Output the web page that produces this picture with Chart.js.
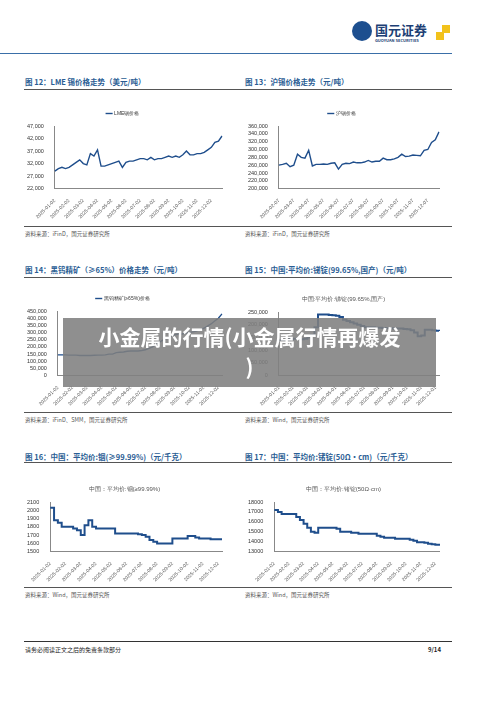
<!DOCTYPE html>
<html><head><meta charset="utf-8">
<script src="https://cdn.jsdelivr.net/npm/chart.js@4"></script>
<style>
body{margin:0;width:500px;height:706px;background:#fff;position:relative;font-family:"Noto Sans CJK SC","Noto Sans",sans-serif;overflow:hidden}
.abs{position:absolute}
.t{font-size:7.5px;font-weight:bold;color:#2a5d94;white-space:nowrap}
.src{font-size:5.5px;color:#555;white-space:nowrap}
.rule{height:1px;background:#555}
.c{position:absolute}
</style></head><body>
<div class="abs" style="left:352px;top:21px;width:20px;height:20px;border-radius:50%;background:#1d4f8f"></div>
<div class="abs" style="left:375px;top:20px;font-size:13px;font-weight:bold;color:#1d3f75">国元证券</div>
<div class="abs" style="left:375px;top:37px;font-size:4px;font-weight:bold;color:#1d3f75">GUOYUAN SECURITIES</div>
<div class="abs" style="left:442px;top:25px;width:8px;height:8px;background:#f2c21b"></div>
<div class="abs" style="left:436px;top:32px;width:8px;height:8px;background:#f2c21b"></div>
<div class="abs rule" style="left:0;top:53px;width:452px;background:#3a6fa8"></div>

<div class="abs t" style="left:25px;top:76px">图 12：LME 锡价格走势（美元/吨）</div>
<div class="abs t" style="left:245px;top:76px">图 13：沪锡价格走势（元/吨）</div>
<div class="abs rule" style="left:24px;top:89px;width:428px"></div>
<div class="c" style="left:24px;top:101px;width:204px;height:120px"><canvas id="c1"></canvas></div>
<div class="c" style="left:245px;top:101px;width:200px;height:120px"><canvas id="c2"></canvas></div>
<div class="abs rule" style="left:24px;top:226px;width:428px"></div>
<div class="abs src" style="left:25px;top:230px">资料来源：iFinD，国元证券研究所</div>
<div class="abs src" style="left:245px;top:230px">资料来源：iFinD，国元证券研究所</div>

<div class="abs t" style="left:25px;top:264px">图 14：黑钨精矿（≥65%）价格走势（元/吨）</div>
<div class="abs t" style="left:245px;top:264px">图 15：中国:平均价:锑锭(99.65%,国产)（元/吨）</div>
<div class="abs rule" style="left:24px;top:277px;width:428px"></div>
<div class="c" style="left:24px;top:286px;width:204px;height:122px"><canvas id="c3"></canvas></div>
<div class="c" style="left:245px;top:286px;width:200px;height:122px"><canvas id="c4"></canvas></div>
<div class="abs rule" style="left:24px;top:412px;width:428px"></div>
<div class="abs src" style="left:25px;top:416px">资料来源：iFinD、SMM，国元证券研究所</div>
<div class="abs src" style="left:245px;top:416px">资料来源：Wind，国元证券研究所</div>

<div class="abs t" style="left:25px;top:451px">图 16：中国：平均价:铟(≥99.99%)（元/千克）</div>
<div class="abs t" style="left:245px;top:451px">图 17：中国：平均价:锗锭(50Ω·cm)（元/千克）</div>
<div class="abs rule" style="left:24px;top:462px;width:428px"></div>
<div class="c" style="left:24px;top:476px;width:204px;height:108px"><canvas id="c5"></canvas></div>
<div class="c" style="left:245px;top:476px;width:200px;height:108px"><canvas id="c6"></canvas></div>
<div class="abs rule" style="left:24px;top:587px;width:428px"></div>
<div class="abs src" style="left:25px;top:591px">资料来源：Wind，国元证券研究所</div>
<div class="abs src" style="left:245px;top:591px">资料来源：Wind，国元证券研究所</div>

<div class="abs rule" style="left:24px;top:641px;width:428px;background:#333"></div>
<div class="abs src" style="left:25px;top:645px;color:#222;font-size:6px">请务必阅读正文之后的免责条款部分</div>
<div class="abs src" style="left:428px;top:645px;color:#222;font-size:6px;font-weight:bold">9/14</div>

<div class="abs" style="left:63px;top:318px;width:373px;height:69px;background:rgba(128,128,128,0.88)"></div>
<div class="abs" style="left:63px;top:321px;width:373px;text-align:center;color:#fff;font-size:21px;font-weight:bold;line-height:30px;font-family:'Noto Sans CJK SC',sans-serif">小金属的行情(小金属行情再爆发<br>)</div>

<script>
const ticksA = ['2025-01-02','2025-02-02','2025-03-02','2025-04-02','2025-05-02','2025-06-02','2025-07-02','2025-08-02','2025-09-02','2025-10-02','2025-11-02','2025-12-02'];
const ticksB = ['2025-02-07','2025-03-07','2025-04-07','2025-05-07','2025-06-07','2025-07-07','2025-08-07','2025-09-07','2025-10-07','2025-11-07','2025-12-07'];
const ticksC = ['2025-01-01','2025-02-01','2025-03-01','2025-04-01','2025-05-01','2025-06-01','2025-07-01','2025-08-01','2025-09-01','2025-10-01','2025-11-01','2025-12-01'];

const lmeTin = [29000,30000,30500,30000, 30500,31500,32500,33500, 32000,31500,36000,35000, 37500,31000,31000,31500,
  32000,32500,33000,30500, 32500,33000,33000,33500, 34000,34000,33500,34500, 33500,34000,34000,34500,
  35000,34500,35000,34500, 35500,37000,35500,35500, 36000,36000,36500,37500, 38500,40500,41000,43000];
const shTin = [260000,262000,265000,256000, 260000,288000,280000,278000, 298000,258000,262000,262000, 263000,262000,265000,266000,
  250000,262000,265000,264000, 268000,266000,266000,268000, 272000,268000,270000,270000, 278000,274000,274000,276000,
  280000,288000,282000,283000, 286000,285000,284000,298000, 300000,318000,325000,345000];
const tungsten = [145000,145000,145000,143000, 143000,143000,140000,140000, 140000,140000,142000,143000, 143000,145000,150000,150000,
  160000,163000,165000,170000, 172000,172000,172000,175000, 180000,190000,200000,220000, 235000,250000,262000,275000,
  285000,290000,290000,295000, 300000,305000,310000,320000, 330000,345000,360000,380000, 400000,430000];
const antimony = [140000,140000,142000,143000, 145000,145000,143000,145000, 150000,160000,190000,240000, 240000,240000,238000,237000,
  235000,230000,220000,215000, 210000,205000,200000,195000, 190000,190000,190000,188000, 188000,187000,186000,186000,
  185000,185000,185000,183000, 182000,178000,170000,155000, 158000,180000,180000,178000, 176000,175000];
const indium = [2030,1880,1850,1800, 1800,1800,1780,1760, 1700,1820,1880,1800, 1780,1780,1780,1780, 1780,1720,1720,1720,
  1720,1720,1720,1710, 1700,1680,1640,1620, 1600,1600,1600,1600, 1660,1660,1660,1660, 1690,1690,1670,1660,
  1660,1660,1650,1650, 1650,1650];
const germanium = [17200,17000,16800,16800, 16800,16800,16500,16200, 15800,15400,15000,14900, 15400,15400,15400,15400,
  15400,15300,15000,15000, 15000,14900,14900,14800, 14800,14800,14800,14800, 14600,14500,14400,14400,
  14400,14300,14300,14300, 14300,14200,14100,13950, 13950,13900,13800,13750, 13700,13600];

function mkLabels(ticks, n){
  const out=[];
  for(let i=0;i<n;i++) out.push(i%4===0 ? ticks[i/4] : '');
  return out;
}
const blue='#1f4e8c';
function draw(id, name, ticks, data, min, max, step, commas, plainLegend){
  const fmt = v => commas ? v.toLocaleString('en-US') : String(v);
  new Chart(document.getElementById(id), {
    type:'line',
    data:{labels:mkLabels(ticks,data.length),datasets:[{label:name,data:data,borderColor:blue,backgroundColor:blue,borderWidth:plainLegend?2:1.4,pointRadius:0,tension:0,stepped:plainLegend}]},
    options:{responsive:true,maintainAspectRatio:false,animation:false,
      layout:{padding:{right:6}},
      plugins:{legend:{labels:plainLegend?{boxWidth:0,font:{size:6},color:'#555'}:{usePointStyle:true,pointStyle:'line',font:{size:5},color:'#333',boxWidth:20},onClick:null},tooltip:{enabled:false}},
      scales:{
        x:{grid:{display:false},border:{color:'#888'},ticks:{autoSkip:false,maxRotation:45,minRotation:45,font:{size:5},color:'#555',padding:1,callback:function(v){return this.getLabelForValue(v);}}},
        y:{min:min,max:max,grid:{display:false},border:{color:'#888'},ticks:{autoSkip:false,stepSize:step,font:{size:5.5},color:'#333',padding:3,callback:fmt}}
      }}
  });
}
draw('c1','LME锡价格',ticksA,lmeTin,22000,47000,5000,true,false);
draw('c2','沪锡价格',ticksB,shTin,200000,360000,20000,true,false);
draw('c3','黑钨精矿(≥65%)价格',ticksA,tungsten,0,450000,50000,true,false);
draw('c4','中国:平均价:锑锭(99.65%,国产)',ticksC,antimony,0,250000,50000,true,true);
draw('c5','中国：平均价:铟(≥99.99%)',ticksA,indium,1500,2100,100,false,true);
draw('c6','中国：平均价:锗锭(50Ω·cm)',ticksA,germanium,13000,18000,1000,false,true);
</script>
</body></html>
